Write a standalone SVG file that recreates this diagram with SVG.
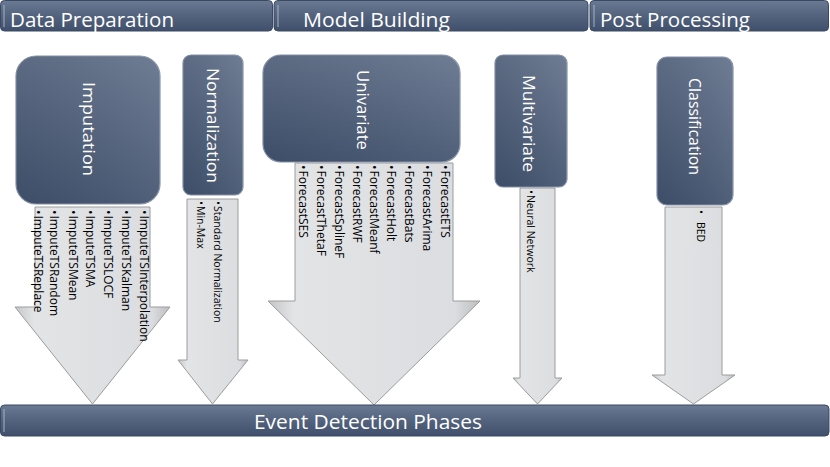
<svg xmlns="http://www.w3.org/2000/svg" width="830" height="467" viewBox="0 0 830 467">
<defs>
<linearGradient id="bar" x1="0" y1="0" x2="0" y2="1">
<stop offset="0" stop-color="#6a7a93"/>
<stop offset="0.5" stop-color="#53637e"/>
<stop offset="1" stop-color="#40506c"/>
</linearGradient>
<linearGradient id="box" x1="0" y1="0" x2="0" y2="1">
<stop offset="0" stop-color="#62728b"/>
<stop offset="1" stop-color="#42526e"/>
</linearGradient>
<linearGradient id="boxh" x1="0" y1="0" x2="1" y2="0">
<stop offset="0" stop-color="#000" stop-opacity="0.06"/>
<stop offset="1" stop-color="#fff" stop-opacity="0.08"/>
</linearGradient>
<linearGradient id="arrow" x1="0" y1="0" x2="1" y2="0">
<stop offset="0" stop-color="#c4c5c7"/>
<stop offset="0.12" stop-color="#e3e4e6"/>
<stop offset="0.88" stop-color="#dcdde0"/>
<stop offset="1" stop-color="#bdbec0"/>
</linearGradient>
<style>
.bar{fill:url(#bar);stroke:#3a4a63;stroke-width:1}
.hl{stroke:#aab6c8;stroke-width:1.2;fill:none;opacity:0.8}
.box{fill:url(#box);stroke:#8592a8;stroke-width:1.2}
.boxs{fill:url(#boxh)}
.arr{fill:url(#arrow);stroke:#9c9c9c;stroke-width:1;stroke-linejoin:miter}
.hd{font-family:"Open Sans","Liberation Sans",sans-serif;font-size:20px;fill:#ffffff}
.lbl{font-family:"Open Sans","Liberation Sans",sans-serif;font-size:17px;fill:#ffffff}
.li{font-family:"Open Sans","Liberation Sans",sans-serif;font-size:12px;fill:#000000}
.ls{font-family:"Open Sans","Liberation Sans",sans-serif;font-size:10.5px;fill:#000000}
</style>
</defs>
<rect width="830" height="467" fill="#ffffff"/>

<g id="connectors">
<path class="arr" d="M35,207 H150 V307 H170 L92.5,404 L15,307 H35 Z"/>
<path class="arr" d="M187,199 H238 V360 H248 L212.5,404 L178,360 H187 Z"/>
<path class="arr" d="M295,163 H453 V301 H480 L374,405 L268,301 H295 Z"/>
<path class="arr" d="M520,188 H555 V378 H562 L537.5,404 L513,378 H520 Z"/>
<path class="arr" d="M665,207 H722 V375 H735 L693.5,404 L652,375 H665 Z"/>
</g>

<g id="header-data-preparation">
<rect class="bar" x="0.5" y="0.5" width="272" height="30.5" rx="4"/>
<line class="hl" x1="4" y1="5" x2="4" y2="27"/>
<text class="hd" x="10" y="27" textLength="164" lengthAdjust="spacingAndGlyphs">Data Preparation</text>
</g>
<g id="header-model-building">
<rect class="bar" x="274" y="0.5" width="314" height="30.5" rx="4"/>
<line class="hl" x1="278" y1="5" x2="278" y2="27"/>
<text class="hd" x="303" y="27" textLength="147" lengthAdjust="spacingAndGlyphs">Model Building</text>
</g>
<g id="header-post-processing">
<rect class="bar" x="590" y="0.5" width="238.5" height="30.5" rx="4"/>
<line class="hl" x1="594" y1="5" x2="594" y2="27"/>
<text class="hd" x="600" y="27" textLength="150" lengthAdjust="spacingAndGlyphs">Post Processing</text>
</g>

<g id="imputation">
<rect class="box" x="16" y="56" width="144" height="148" rx="20"/>
<rect class="boxs" x="16" y="56" width="144" height="148" rx="20"/>
<text class="lbl" transform="translate(83,82) rotate(90)" textLength="94" lengthAdjust="spacingAndGlyphs">Imputation</text>
</g>
<g id="imputation-methods">
<text class="li" transform="translate(139.8,210) rotate(90)">•<tspan dx="1">ImputeTSInterpolation</tspan></text>
<text class="li" transform="translate(121.8,210) rotate(90)">•<tspan dx="1">ImputeTSKalman</tspan></text>
<text class="li" transform="translate(103.8,210) rotate(90)">•<tspan dx="1">ImputeTSLOCF</tspan></text>
<text class="li" transform="translate(85.8,210) rotate(90)">•<tspan dx="1">ImputeTSMA</tspan></text>
<text class="li" transform="translate(68.5,210) rotate(90)">•<tspan dx="1">ImputeTSMean</tspan></text>
<text class="li" transform="translate(50.2,210) rotate(90)">•<tspan dx="1">ImputeTSRandom</tspan></text>
<text class="li" transform="translate(33.8,210) rotate(90)">•<tspan dx="1">ImputeTSReplace</tspan></text>
</g>

<g id="normalization">
<rect class="box" x="183" y="55" width="60" height="140" rx="8"/>
<rect class="boxs" x="183" y="55" width="60" height="140" rx="8"/>
<text class="lbl" transform="translate(207,68) rotate(90)" textLength="115" lengthAdjust="spacingAndGlyphs">Normalization</text>
</g>
<g id="normalization-methods">
<text class="ls" transform="translate(214.2,201) rotate(90)">•<tspan dx="1">Standard Normalization</tspan></text>
<text class="ls" transform="translate(197.2,201) rotate(90)">•<tspan dx="1">Min-Max</tspan></text>
</g>

<g id="univariate">
<rect class="box" x="263" y="55" width="197" height="107" rx="18"/>
<rect class="boxs" x="263" y="55" width="197" height="107" rx="18"/>
<text class="lbl" transform="translate(357,70) rotate(90)" textLength="80" lengthAdjust="spacingAndGlyphs">Univariate</text>
</g>
<g id="univariate-methods">
<text class="li" transform="translate(441.1,165) rotate(90)">•<tspan dx="1">ForecastETS</tspan></text>
<text class="li" transform="translate(423,165) rotate(90)">•<tspan dx="1">ForecastArima</tspan></text>
<text class="li" transform="translate(405.1,165) rotate(90)">•<tspan dx="1">ForecastBats</tspan></text>
<text class="li" transform="translate(387,165) rotate(90)">•<tspan dx="1">ForecastHolt</tspan></text>
<text class="li" transform="translate(370.1,165) rotate(90)">•<tspan dx="1">ForecastMeanf</tspan></text>
<text class="li" transform="translate(352.8,165) rotate(90)">•<tspan dx="1">ForecastRWF</tspan></text>
<text class="li" transform="translate(335.1,165) rotate(90)">•<tspan dx="1">ForecastSplineF</tspan></text>
<text class="li" transform="translate(316.8,165) rotate(90)">•<tspan dx="1">ForecastThetaF</tspan></text>
<text class="li" transform="translate(299.1,165) rotate(90)">•<tspan dx="1">ForecastSES</tspan></text>
</g>

<g id="multivariate">
<rect class="box" x="495" y="55" width="72" height="132" rx="8"/>
<rect class="boxs" x="495" y="55" width="72" height="132" rx="8"/>
<text class="lbl" transform="translate(523,75) rotate(90)" textLength="97" lengthAdjust="spacingAndGlyphs">Multivariate</text>
</g>
<g id="multivariate-methods">
<text class="ls" transform="translate(527.2,190) rotate(90)">•<tspan dx="1">Neural Network</tspan></text>
</g>

<g id="classification">
<rect class="box" x="657" y="57" width="76" height="148" rx="10"/>
<rect class="boxs" x="657" y="57" width="76" height="148" rx="10"/>
<text class="lbl" transform="translate(689,78) rotate(90)" textLength="97" lengthAdjust="spacingAndGlyphs">Classification</text>
</g>
<g id="classification-methods">
<text class="ls" transform="translate(697,210) rotate(90)">•<tspan dx="8">BED</tspan></text>
</g>

<g id="event-detection-phases">
<rect class="bar" x="0.5" y="405" width="828.5" height="31" rx="4"/>
<line class="hl" x1="4" y1="409" x2="4" y2="432"/>
<text class="hd" x="254" y="429" font-size="22" textLength="228" lengthAdjust="spacingAndGlyphs">Event Detection Phases</text>
</g>
</svg>
